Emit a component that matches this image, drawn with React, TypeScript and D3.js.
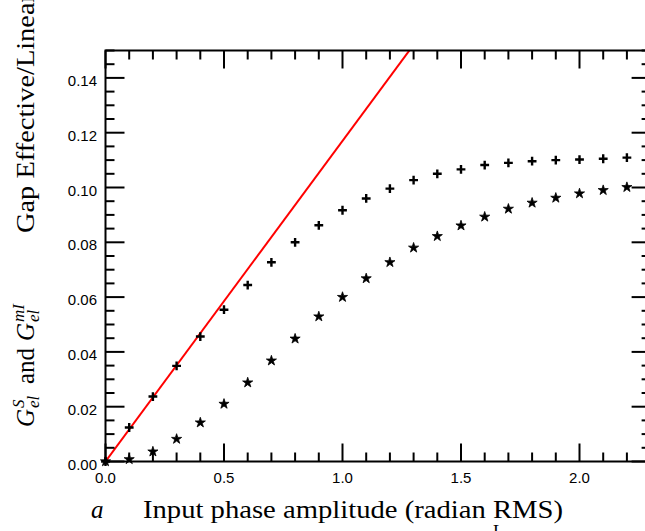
import React from "react";
import * as d3 from "d3";

const xValues = [0, 0.1, 0.2, 0.3, 0.4, 0.5, 0.6, 0.7, 0.8, 0.9, 1.0, 1.1, 1.2, 1.3, 1.4, 1.5, 1.6, 1.7, 1.8, 1.9, 2.0, 2.1, 2.2];
const plusValues = [0, 0.0124, 0.0237, 0.0349, 0.0456, 0.0554, 0.0644, 0.0727, 0.08, 0.0862, 0.0917, 0.096, 0.0996, 0.1027, 0.105, 0.1066, 0.1082, 0.109, 0.1096, 0.11, 0.1102, 0.1105, 0.1109];
const starValues = [0, 0.0008, 0.0036, 0.0082, 0.0142, 0.021, 0.0288, 0.0368, 0.0448, 0.0529, 0.06, 0.0668, 0.0727, 0.078, 0.0822, 0.0861, 0.0893, 0.0922, 0.0944, 0.0962, 0.0978, 0.099, 0.1001];
const linearSlope = 0.117;
const xTickLabels = [0, 0.5, 1.0, 1.5, 2.0];
const yTickLabels = [0, 0.02, 0.04, 0.06, 0.08, 0.1, 0.12, 0.14];
const xDomain = [0, 2.3];
const yDomain = [0, 0.15];

const W = 645;
const H = 531;
const left = 105.5;
const right = 650.6;
const top = 50.5;
const bottom = 461.5;

export default function App() {
  const x = d3.scaleLinear().domain(xDomain).range([left, right]);
  const y = d3.scaleLinear().domain(yDomain).range([bottom, top]);

  const xMinor = d3.range(0, 2.3001, 0.1).map((v) => +v.toFixed(2));
  const xMajor = d3.range(0, 2.3001, 0.5).map((v) => +v.toFixed(2));
  const yMinor = d3.range(0, 0.15001, 0.005).map((v) => +v.toFixed(3));
  const yMajor = d3.range(0, 0.15001, 0.02).map((v) => +v.toFixed(3));

  const isMajorX = (v: number) => xMajor.some((m) => Math.abs(m - v) < 1e-6);
  const isMajorY = (v: number) => yMajor.some((m) => Math.abs(m - v) < 1e-6);

  const majLen = 19;
  const minLen = 9;
  const sw = 2;

  const lineGen = d3
    .line<[number, number]>()
    .x((d) => x(d[0]))
    .y((d) => y(d[1]));
  const xEnd = yDomain[1] / linearSlope + 0.05;
  const lineData: [number, number][] = [
    [0, 0],
    [xEnd, linearSlope * xEnd],
  ];

  const starPath = d3.symbol().type(d3.symbolStar).size(32)() as string;
  const ph = 4.4;
  const plusPath = `M${-ph},0H${ph}M0,${-ph}V${ph}`;

  const tickFont = "'Liberation Sans', Arial, Helvetica, sans-serif";
  const serif = "'Liberation Serif', 'Times New Roman', serif";

  return (
    <svg
      width={W}
      height={H}
      style={{ position: "absolute", left: 0, top: 0, background: "#fff" }}
    >
      <rect x={0} y={0} width={W} height={H} fill="#fff" />
      <defs>
        <clipPath id="plotClip">
          <rect x={left} y={top} width={right - left} height={bottom - top} />
        </clipPath>
      </defs>

      {/* red linear line */}
      <path
        d={lineGen(lineData) as string}
        fill="none"
        stroke="#ff0000"
        strokeWidth={2}
        clipPath="url(#plotClip)"
      />

      {/* plus markers */}
      {xValues.map((xv, i) => (
        <path
          key={"p" + i}
          d={plusPath}
          transform={`translate(${x(xv)},${y(plusValues[i])})`}
          stroke="#000"
          strokeWidth={2.4}
          fill="none"
        />
      ))}
      {/* star markers */}
      {xValues.map((xv, i) => (
        <path
          key={"s" + i}
          d={starPath}
          transform={`translate(${x(xv)},${y(starValues[i])})`}
          fill="#000"
          stroke="#000"
          strokeWidth={0.8}
          strokeLinejoin="round"
        />
      ))}

      {/* frame */}
      <rect
        x={left}
        y={top}
        width={right - left}
        height={bottom - top}
        fill="none"
        stroke="#000"
        strokeWidth={sw}
      />

      {/* x ticks bottom & top */}
      {xMinor.map((v, i) => {
        const L = isMajorX(v) ? majLen - 1 : minLen;
        const px = x(v);
        return (
          <g key={"xt" + i} stroke="#000" strokeWidth={sw}>
            <line x1={px} x2={px} y1={bottom} y2={bottom - L} />
            <line x1={px} x2={px} y1={top} y2={top + L} />
          </g>
        );
      })}
      {/* y ticks left & right */}
      {yMinor.map((v, i) => {
        const L = isMajorY(v) ? majLen : minLen;
        const py = y(v);
        return (
          <g key={"yt" + i} stroke="#000" strokeWidth={sw}>
            <line x1={left} x2={left + L} y1={py} y2={py} />
            <line x1={right} x2={right - L} y1={py} y2={py} />
          </g>
        );
      })}

      {/* tick labels */}
      {xTickLabels.map((v, i) => (
        <text
          key={"xl" + i}
          x={x(v)}
          y={482.5}
          textAnchor="middle"
          fontFamily={tickFont}
          fontSize={15}
          fill="#000"
        >
          {d3.format(".1f")(v)}
        </text>
      ))}
      {yTickLabels.map((v, i) => (
        <text
          key={"yl" + i}
          x={97}
          y={y(v) + 8}
          textAnchor="end"
          fontFamily={tickFont}
          fontSize={15}
          fill="#000"
        >
          {d3.format(".2f")(v)}
        </text>
      ))}

      {/* x axis title */}
      <text x={91} y={518} fontFamily={serif} fontStyle="italic" fontSize={25} fill="#000">
        a
      </text>
      <text
        x={143}
        y={518}
        fontFamily={serif}
        fontSize={25}
        fill="#000"
        textLength={420}
        lengthAdjust="spacingAndGlyphs"
      >
        Input phase amplitude (radian RMS)
      </text>
      <text x={493} y={538} fontFamily={serif} fontSize={18} fill="#000">
        L
      </text>

      {/* y axis title (rotated) */}
      <g transform="translate(34,427) rotate(-90)" fontFamily={serif} fill="#000">
        <text x={0} y={0} fontSize={25} fontStyle="italic">G</text>
        <text x={19} y={-10} fontSize={17} fontStyle="italic">S</text>
        <text x={19} y={5} fontSize={17} fontStyle="italic">el</text>
        <text x={43} y={0} fontSize={25}>and</text>
        <text x={86} y={0} fontSize={25} fontStyle="italic">G</text>
        <text x={105} y={-10} fontSize={17} fontStyle="italic">mI</text>
        <text x={105} y={5} fontSize={17} fontStyle="italic">el</text>
        <text
          x={194}
          y={0}
          fontSize={25}
          textLength={240}
          lengthAdjust="spacingAndGlyphs"
        >
          Gap Effective/Linear
        </text>
      </g>
    </svg>
  );
}
